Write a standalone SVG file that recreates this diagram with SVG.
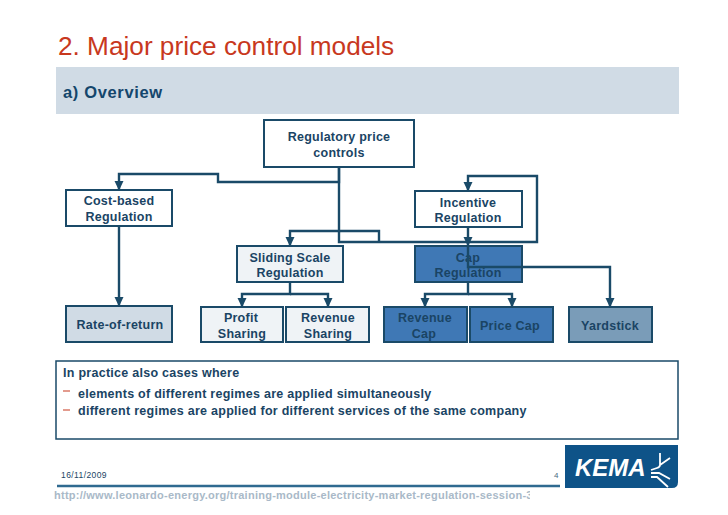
<svg xmlns="http://www.w3.org/2000/svg" width="728" height="515" viewBox="0 0 728 515">
<style>
text{font-family:"Liberation Sans",Arial,sans-serif}
.b{stroke:#1a4a68;stroke-width:2}
.t{font-size:12.5px;font-weight:bold;fill:#1a4464;text-anchor:middle;letter-spacing:.25px}
.l{font-size:12.5px;font-weight:bold;fill:#1a4464;letter-spacing:.27px}
.c{fill:none;stroke:#1a4a68;stroke-width:2.4}
.w{fill:#fff}.p{fill:#eff3f6}.s{fill:#d0dbe5}.d{fill:#3f78b5}.y{fill:#7a9cb8}
</style>
<defs>
<marker id="h" markerUnits="userSpaceOnUse" markerWidth="10" markerHeight="10" refX="9" refY="5" orient="auto" viewBox="0 0 10 10"><path d="M0,.5 L9.5,5 L0,9.5Z" fill="#1a4a68"/></marker></defs>
<rect width="728" height="515" fill="#fff"/>
<text x="58" y="55" font-size="26.2" fill="#c8381e">2. Major price control models</text>
<rect x="56" y="67" width="623" height="47" fill="#d0dbe5"/>
<text x="63" y="98" font-size="16.5" font-weight="bold" fill="#14466c" letter-spacing=".65">a) Overview</text>
<g id="node-regulatory"><rect class="b w" x="264" y="120" width="150" height="47"/><text class="t" x="339" y="141">Regulatory price</text><text class="t" x="339" y="157">controls</text></g>
<g id="node-cost"><rect class="b w" x="66" y="190" width="106" height="36"/><text class="t" x="119" y="205">Cost-based</text><text class="t" x="119" y="221">Regulation</text></g>
<g id="node-incentive"><rect class="b w" x="415" y="191" width="107" height="36"/><text class="t" x="468" y="207">Incentive</text><text class="t" x="468" y="222">Regulation</text></g>
<g id="node-sliding"><rect class="b p" x="237" y="246" width="106" height="36"/><text class="t" x="290" y="262">Sliding Scale</text><text class="t" x="290" y="277">Regulation</text></g>
<g id="node-cap"><rect class="b d" x="415" y="246" width="107" height="36"/><text class="t" x="468" y="262">Cap</text><text class="t" x="468" y="277">Regulation</text></g>
<g id="node-rate"><rect class="b s" x="66" y="306" width="106" height="36"/><text class="t" x="120" y="329">Rate-of-return</text></g>
<g id="node-profit"><rect class="b p" x="201" y="307" width="82" height="35"/><text class="t" x="241" y="322">Profit</text><text class="t" x="242" y="338">Sharing</text></g>
<g id="node-revsharing"><rect class="b p" x="286" y="307" width="83" height="35"/><text class="t" x="328" y="322">Revenue</text><text class="t" x="328" y="338">Sharing</text></g>
<g id="node-revcap"><rect class="b d" x="384" y="307" width="83" height="35"/><text class="t" x="425" y="322">Revenue</text><text class="t" x="424" y="338">Cap</text></g>
<g id="node-pricecap"><rect class="b d" x="470" y="307" width="83" height="35"/><text class="t" x="510" y="330">Price Cap</text></g>
<g id="node-yardstick"><rect class="b y" x="569" y="307" width="83" height="35"/><text class="t" x="610" y="330">Yardstick</text></g>
<g id="connectors">
<path class="c" marker-end="url(#h)" d="M339,167V182H218V174H119V190"/>
<path class="c" marker-end="url(#h)" d="M339,167V231H290V246"/>
<path class="c" d="M339,231H379V242"/>
<path class="c" marker-end="url(#h)" d="M339,231V242H537V176H468V191"/>
<path class="c" marker-end="url(#h)" d="M468,227V246"/>
<path class="c" marker-end="url(#h)" d="M468,246V267H610V307"/>
<path class="c" marker-end="url(#h)" d="M119,226V306"/>
<path class="c" marker-end="url(#h)" d="M290,282V294H242V307"/>
<path class="c" marker-end="url(#h)" d="M290,294H328V307"/>
<path class="c" marker-end="url(#h)" d="M468,282V294H425V307"/>
<path class="c" marker-end="url(#h)" d="M468,294H512V307"/>
</g>
<g id="note"><rect x="56" y="361" width="622" height="78" fill="#fff" stroke="#1a4a68" stroke-width="1.5"/>
<text class="l" x="63" y="377">In practice also cases where</text>
<path d="M63,391H70M63,410H70" stroke="#c8381e" stroke-width="1.2"/>
<text class="l" x="78" y="398">elements of different regimes are applied simultaneously</text>
<text class="l" x="78" y="415">different regimes are applied for different services of the same company</text></g>
<text x="61" y="478" font-size="8.5" fill="#1a4464" letter-spacing=".4">16/11/2009</text>
<text x="554" y="478" font-size="8" fill="#4a6a82">4</text>
<path d="M57,486H560" stroke="#2f6a90" stroke-width="2.4"/>
<svg x="0" y="0" width="530" height="515" viewBox="0 0 530 515"><text x="54" y="499" font-size="11" font-weight="bold" fill="#a9b9c8" letter-spacing=".25">http://www.leonardo-energy.org/training-module-electricity-market-regulation-session-3</text></svg>
<g id="logo"><path d="M565,445H678V482Q678,488 672,488H565Z" fill="#0e5388"/>
<text x="575" y="476" font-size="24" font-weight="bold" font-style="italic" fill="#fff">KEMA</text>
<path d="M660,453V465Q660,467 657,468L651,470M670,458L660,465M651,473H659L670,479M651,477H657L668,487" fill="none" stroke="#fff" stroke-width="1.8"/></g>
</svg>
